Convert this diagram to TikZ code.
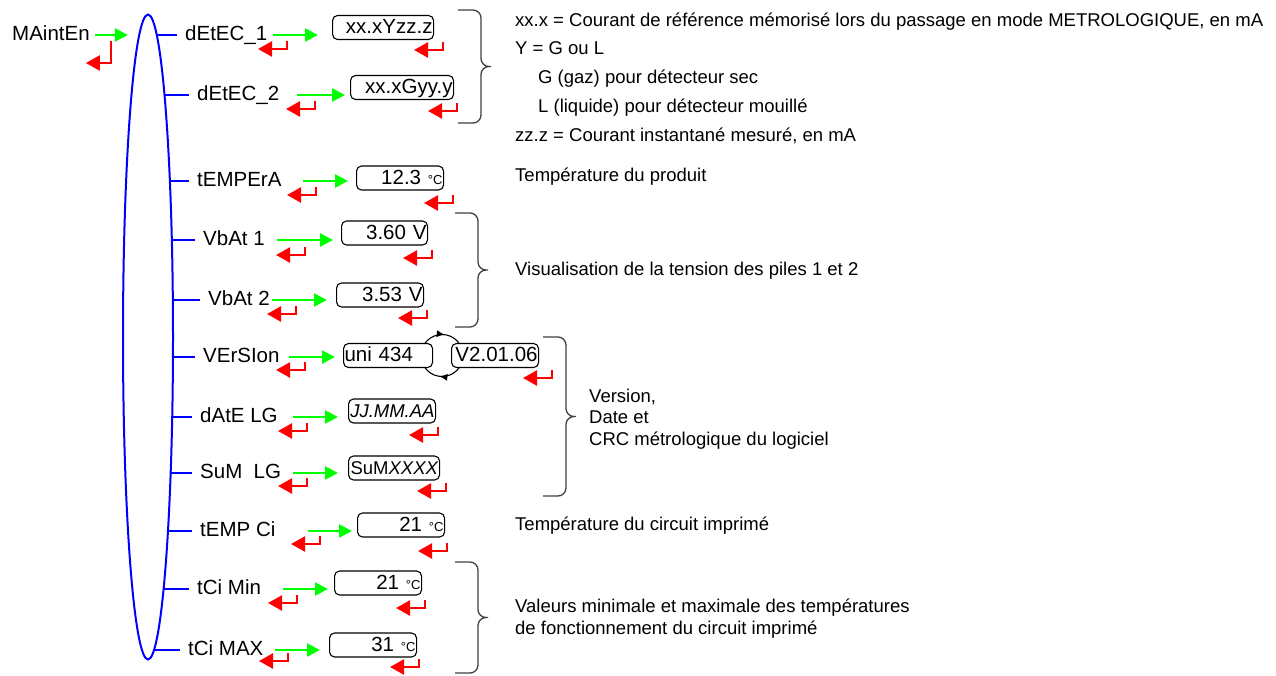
\documentclass[tikz,border=0pt]{standalone}
\usepackage{fontspec}
\setmainfont{Liberation Sans}
\usetikzlibrary{arrows.meta,shapes.geometric,backgrounds,decorations.markings}

\definecolor{vert}{RGB}{0,255,0}
\definecolor{rouge}{RGB}{255,0,0}
\definecolor{bleu}{RGB}{0,0,255}
\definecolor{gris}{RGB}{64,64,64}

\newcommand\degC{{\fontsize{13}{13}\selectfont °C}}
% accolade: x, haut, bas
\newcommand\accolade[3]{%
  \draw[accol] (#1,#2) -- ({#1+23},#2) -- ({#1+23},{(#2+#3)/2}) -- ({#1+33},{(#2+#3)/2})
               (#1,#3) -- ({#1+23},#3) -- ({#1+23},{(#2+#3)/2}) -- ({#1+33},{(#2+#3)/2});}

\tikzset{
  lbl/.style={anchor=west, inner sep=0pt, text height=14pt, text depth=4pt,
    font=\fontsize{20.5}{24}\selectfont},
  valbox/.style={draw, rounded corners=5pt, fill=white, anchor=west, line width=1.1pt,
    inner xsep=1pt, inner ysep=0pt, minimum height=24pt, text height=15pt, text depth=3pt,
    align=right, font=\fontsize{20.5}{24}\selectfont},
  note/.style={anchor=west, inner sep=0pt, align=left, font=\fontsize{18.5}{21.5}\selectfont},
  okarrow/.style={draw=vert, line width=2.3pt, -{Triangle[length=13pt,width=13pt]}},
  escarrow/.style={draw=rouge, line width=2.5pt, -{Triangle[length=14pt,width=15pt]}},
  branche/.style={draw=bleu, line width=2pt, shorten >=8pt},
  accol/.style={draw=gris, line width=1.3pt, rounded corners=8pt},
  menu/.style={ellipse, draw=bleu, line width=2pt, fill=white, minimum width=50pt,
    minimum height=645pt, inner sep=0pt},
  cyc/.style={draw=black, line width=1.1pt, postaction={decorate},
    decoration={markings,
      mark=at position .27 with {\arrow{Latex[length=8pt,width=7pt]}},
      mark=at position .77 with {\arrow{Latex[length=8pt,width=7pt]}}}},
  retour/.pic={\draw[escarrow] (0,0) -- (0,8) -- (-29,8);}
}

\begin{document}
\begin{tikzpicture}[x=1pt, y=-1pt]
  \useasboundingbox (0,0) rectangle (1276,675);

  % menu
  \node[lbl] (maint) at (12,35) {MAintEn};
  \node[menu] (menu) at (148,337) {};
  \node[lbl] (detec1) at (185,35) {dEtEC\_1};
  \node[lbl] (detec2) at (197,95) {dEtEC\_2};
  \node[lbl] (temp) at (197,181) {tEMPErA};
  \node[lbl] (vbat1) at (203,240) {VbAt 1};
  \node[lbl] (vbat2) at (208,300) {VbAt 2};
  \node[lbl] (vers) at (203,357) {VErSIon};
  \node[lbl] (date) at (200,417) {dAtE LG};
  \node[lbl] (sum) at (200,473) {SuM\ \ LG};
  \node[lbl] (tempci) at (200,531) {tEMP Ci};
  \node[lbl] (tcimin) at (197,589) {tCi Min};
  \node[lbl] (tcimax) at (188,650) {tCi MAX};

  % afficheurs
  \node[valbox, text width=99pt] (vdetec1) at (332,27.5) {xx.xYzz.z};
  \node[valbox, text width=101pt] (vdetec2) at (350,87.5) {xx.xGyy.y};
  \node[valbox, text width=85pt] (vtemp) at (356,178) {12.3 \degC};
  \node[valbox, text width=84pt] (vvbat1) at (341,233) {3.60 V};
  \node[valbox, text width=85pt] (vvbat2) at (336,295) {3.53 V};
  \node[valbox, text width=87pt, align=left] (vuni) at (343,355.5) {uni 434};
  \node[valbox, text width=85pt] (vvers) at (451,355.5) {V2.01.06};
  \node[valbox, text width=85pt, font=\fontsize{18.5}{22}\selectfont] (vdate) at (348,411) {\itshape JJ.MM.AA};
  \node[valbox, text width=89pt, font=\fontsize{18.5}{22}\selectfont] (vsum) at (348,468) {SuM\textit{XXXX}};
  \node[valbox, text width=85pt] (vtempci) at (357,525) {21 \degC};
  \node[valbox, text width=85pt] (vtcimin) at (334,583) {21 \degC};
  \node[valbox, text width=85pt] (vtcimax) at (329,645) {31 \degC};
  \path (vuni.east) -- coordinate[pos=.5] (bascule) (vvers.west);

  \begin{scope}[on background layer]
    \draw[branche] (menu.center |- detec1.west) -- (detec1.west);
    \draw[branche] (menu.center |- detec2.west) -- (detec2.west);
    \draw[branche] (menu.center |- temp.west) -- (temp.west);
    \draw[branche] (menu.center |- vbat1.west) -- (vbat1.west);
    \draw[branche] (menu.center |- vbat2.west) -- (vbat2.west);
    \draw[branche] (menu.center |- vers.west) -- (vers.west);
    \draw[branche] (menu.center |- date.west) -- (date.west);
    \draw[branche] (menu.center |- sum.west) -- (sum.west);
    \draw[branche] (menu.center |- tempci.west) -- (tempci.west);
    \draw[branche] (menu.center |- tcimin.west) -- (tcimin.west);
    \draw[branche] (menu.center |- tcimax.west) -- (tcimax.west);
    \draw[cyc] (bascule) circle (21);
  \end{scope}

  % touches
  \draw[okarrow, shorten <=5pt] (maint.east) -- ++(38,0);
  \draw[okarrow, shorten <=6pt, shorten >=14pt] (detec1.east) -- (detec1.east -| vdetec1.west);
  \draw[okarrow, shorten <=18pt, shorten >=5pt] (detec2.east) -- (detec2.east -| vdetec2.west);
  \draw[okarrow, shorten <=21pt, shorten >=8pt] (temp.east) -- (temp.east -| vtemp.west);
  \draw[okarrow, shorten <=12pt, shorten >=8pt] (vbat1.east) -- (vbat1.east -| vvbat1.west);
  \draw[okarrow, shorten <=2pt, shorten >=9pt] (vbat2.east) -- (vbat2.east -| vvbat2.west);
  \draw[okarrow, shorten <=9pt, shorten >=8pt] (vers.east) -- (vers.east -| vuni.west);
  \draw[okarrow, shorten <=15pt, shorten >=10pt] (date.east) -- (date.east -| vdate.west);
  \draw[okarrow, shorten <=12pt, shorten >=10pt] (sum.east) -- (sum.east -| vsum.west);
  \draw[okarrow, shorten <=32pt, shorten >=5pt] (tempci.east) -- (tempci.east -| vtempci.west);
  \draw[okarrow, shorten <=22pt, shorten >=6pt] (tcimin.east) -- (tcimin.east -| vtcimin.west);
  \draw[okarrow, shorten <=11pt, shorten >=9pt] (tcimax.east) -- (tcimax.east -| vtcimax.west);

  \draw[escarrow] ([xshift=21pt,yshift=-6pt]maint.east) -- ++(0,22) -- ++(-25,0);
  \pic at (287,41) {retour};   \pic at (443,42) {retour};
  \pic at (315,101) {retour};  \pic at (457,103) {retour};
  \pic at (316,187) {retour};  \pic at (453,195) {retour};
  \pic at (305,247) {retour};  \pic at (432,250) {retour};
  \pic at (296,306) {retour};  \pic at (427,310) {retour};
  \pic at (305,362) {retour};  \pic at (552,370) {retour};
  \pic at (307,423) {retour};  \pic at (438,427) {retour};
  \pic at (307,478) {retour};  \pic at (446,483) {retour};
  \pic at (320,536) {retour};  \pic at (447,543) {retour};
  \pic at (297,595) {retour};  \pic at (425,600) {retour};
  \pic at (288,653) {retour};  \pic at (419,659) {retour};

  % commentaires
  \accolade{458}{10}{123}
  \accolade{455}{213}{327}
  \accolade{543}{337}{496}
  \accolade{455}{562}{673}
  \node[note, font=\fontsize{18.5}{28.75}\selectfont] (ndetec) at (515,78)
    {xx.x = Courant de référence mémorisé lors du passage en mode METROLOGIQUE, en mA\\
     Y = G ou L\\
     \hspace*{23pt}G (gaz) pour détecteur sec\\
     \hspace*{23pt}L (liquide) pour détecteur mouillé\\
     zz.z = Courant instantané mesuré, en mA};
  \node[note] (ntemp) at (515,177) {Température du produit};
  \node[note] (nvbat) at (515,271) {Visualisation de la tension des piles 1 et 2};
  \node[note] (nvers) at (589,419) {Version,\\Date et\\CRC métrologique du logiciel};
  \node[note] (ntempci) at (515,526) {Température du circuit imprimé};
  \node[note, font=\fontsize{18.5}{22}\selectfont] (ntci) at (515,619)
    {Valeurs minimale et maximale des températures\\de fonctionnement du circuit imprimé};
\end{tikzpicture}
\end{document}
